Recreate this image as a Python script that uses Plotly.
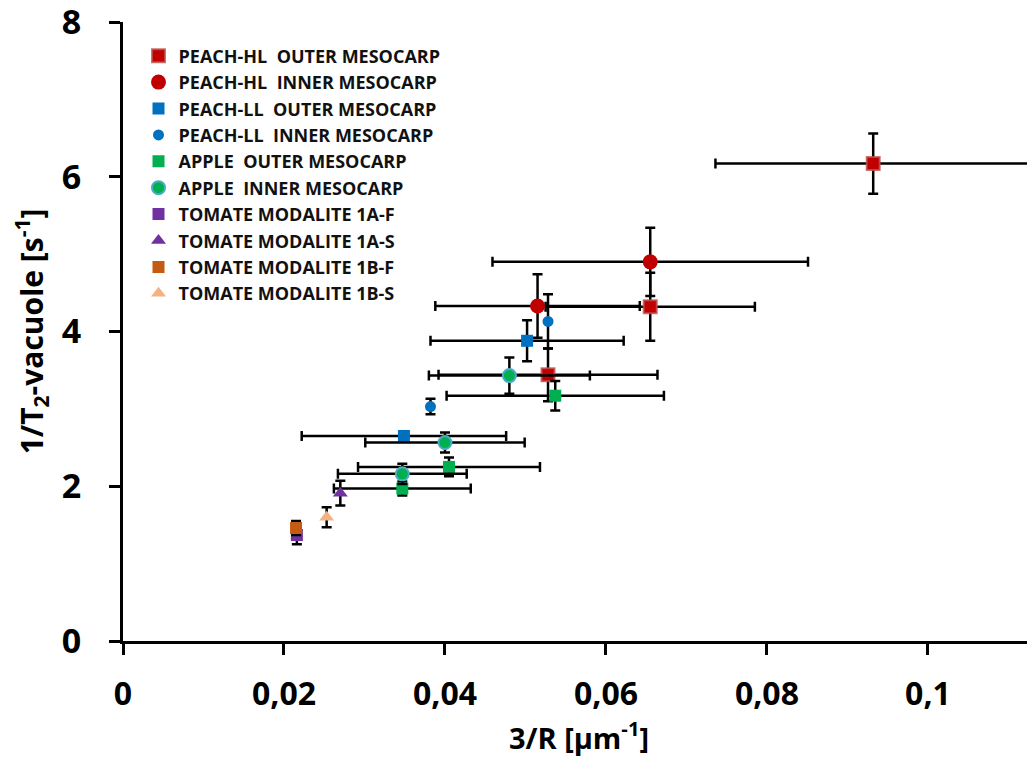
import plotly.graph_objects as go

# ---- data ----
names = [
    "PEACH-HL  OUTER MESOCARP", "PEACH-HL  INNER MESOCARP",
    "PEACH-LL  OUTER MESOCARP", "PEACH-LL  INNER MESOCARP",
    "APPLE  OUTER MESOCARP", "APPLE  INNER MESOCARP",
    "TOMATE MODALITE 1A-F", "TOMATE MODALITE 1A-S",
    "TOMATE MODALITE 1B-F", "TOMATE MODALITE 1B-S",
]
hl_outer_x = [0.0932, 0.0655, 0.0528]
hl_outer_y = [6.17, 4.32, 3.44]
hl_outer_xerr = [0.0196, 0.0130, 0.0136]
hl_outer_yerr = [0.39, 0.44, 0.34]

hl_inner_x = [0.0655, 0.0515]
hl_inner_y = [4.90, 4.33]
hl_inner_xerr = [0.0196, 0.0127]
hl_inner_yerr = [0.44, 0.41]

ll_outer_x = [0.0502, 0.0349]
ll_outer_y = [3.88, 2.65]
ll_outer_xerr = [0.0120, 0.0127]
ll_outer_yerr = [0.265, 0.0]

ll_inner_x = [0.0528, 0.0382]
ll_inner_y = [4.13, 3.03]
ll_inner_xerr = [0.0, 0.0]
ll_inner_yerr = [0.35, 0.10]

apple_outer_x = [0.0537, 0.0405, 0.0347]
apple_outer_y = [3.17, 2.25, 1.97]
apple_outer_xerr = [0.0135, 0.0113, 0.0085]
apple_outer_yerr = [0.19, 0.12, 0.09]

apple_inner_x = [0.0480, 0.0400, 0.0347]
apple_inner_y = [3.43, 2.565, 2.16]
apple_inner_xerr = [0.0100, 0.0099, 0.0080]
apple_inner_yerr = [0.235, 0.13, 0.13]

tom_1af_x = [0.0216]
tom_1af_y = [1.37]
tom_1af_yerr = [0.12]

tom_1as_x = [0.0270]
tom_1as_y = [1.91]
tom_1as_yerr = [0.16]

tom_1bf_x = [0.0215]
tom_1bf_y = [1.46]
tom_1bf_yerr = [0.09]

tom_1bs_x = [0.0253]
tom_1bs_y = [1.60]
tom_1bs_yerr = [0.13]

x_tickvals = [0, 0.02, 0.04, 0.06, 0.08, 0.1]
x_ticktext = ["0", "0,02", "0,04", "0,06", "0,08", "0,1"]
y_tickvals = [0, 2, 4, 6, 8]
y_ticktext = ["0", "2", "4", "6", "8"]

# ---- figure ----
series = [
    (hl_outer_x, hl_outer_y, hl_outer_xerr, hl_outer_yerr, "square", 13, "#C00000", "rgba(192,80,77,0.8)", 2),
    (hl_inner_x, hl_inner_y, hl_inner_xerr, hl_inner_yerr, "circle", 15, "#C00000", "#C00000", 0),
    (ll_outer_x, ll_outer_y, ll_outer_xerr, ll_outer_yerr, "square", 12, "#0070C0", "#0070C0", 0),
    (ll_inner_x, ll_inner_y, ll_inner_xerr, ll_inner_yerr, "circle", 11, "#0070C0", "#0070C0", 0),
    (apple_outer_x, apple_outer_y, apple_outer_xerr, apple_outer_yerr, "square", 12, "#00B050", "#00B050", 0),
    (apple_inner_x, apple_inner_y, apple_inner_xerr, apple_inner_yerr, "circle", 13, "#00B050", "#4BACC6", 2),
    (tom_1af_x, tom_1af_y, None, tom_1af_yerr, "square", 12, "#7030A0", "#7030A0", 0),
    (tom_1as_x, tom_1as_y, None, tom_1as_yerr, "triangle-up", 13, "#7030A0", "#7030A0", 0),
    (tom_1bf_x, tom_1bf_y, None, tom_1bf_yerr, "square", 12, "#C55A11", "#C55A11", 0),
    (tom_1bs_x, tom_1bs_y, None, tom_1bs_yerr, "triangle-up", 13, "#F4B183", "#F4B183", 0),
]

fig = go.Figure()
for i, (xs, ys, xe, ye, sym, size, col, lcol, lw) in enumerate(series):
    kw = {}
    if xe is not None:
        kw["error_x"] = dict(type="data", array=xe, visible=True, color="black",
                             thickness=2.5, width=5)
    kw["error_y"] = dict(type="data", array=ye, visible=True, color="black",
                         thickness=2.5, width=5)
    fig.add_trace(go.Scatter(
        x=xs, y=ys, mode="markers", name=names[i], legendgroup=f"g{i}",
        marker=dict(symbol=sym, size=size, color=col, line=dict(color=lcol, width=lw)),
        **kw))

# page body has an 8px default margin; the figure fills the rest of the window
fig.update_layout(
    width=1027, height=761,
    paper_bgcolor="white", plot_bgcolor="white",
    margin=dict(l=115, r=0, t=14, b=128, autoexpand=False),
    font=dict(family="Open Sans", color="black"),
    separators=", ",
    showlegend=True,
    legend=dict(x=0.017, y=0.975, xanchor="left", yanchor="top",
                font=dict(size=18, weight="bold", color="#111111"),
                tracegroupgap=0, itemwidth=30, bgcolor="rgba(0,0,0,0)"),
    xaxis=dict(range=[0, 0.1133], tickvals=x_tickvals, ticktext=x_ticktext,
               automargin=False,
               showgrid=False, zeroline=False, showline=True, linecolor="black",
               linewidth=3, ticks="outside", ticklen=11, tickwidth=3, tickcolor="black",
               tickfont=dict(size=32, weight="bold"), ticklabelstandoff=12,
               ticklabeloverflow="allow",
               title=dict(text="3/R [µm<sup>-1</sup>]", font=dict(size=29, weight="bold"),
                          standoff=14)),
    yaxis=dict(range=[0, 8], tickvals=y_tickvals, ticktext=y_ticktext,
               automargin=False,
               showgrid=False, zeroline=False, showline=True, linecolor="black",
               linewidth=3, ticks="outside", ticklen=11, tickwidth=3, tickcolor="black",
               tickfont=dict(size=34, weight="bold"), ticklabelstandoff=21,
               ticklabeloverflow="allow",
               title=dict(text="1/T<sub>2</sub>-vacuole [s<sup>-1</sup>]",
                          font=dict(size=30, weight="bold"), standoff=10)),
)

fig.write_html("out.html", config={"displayModeBar": False})
